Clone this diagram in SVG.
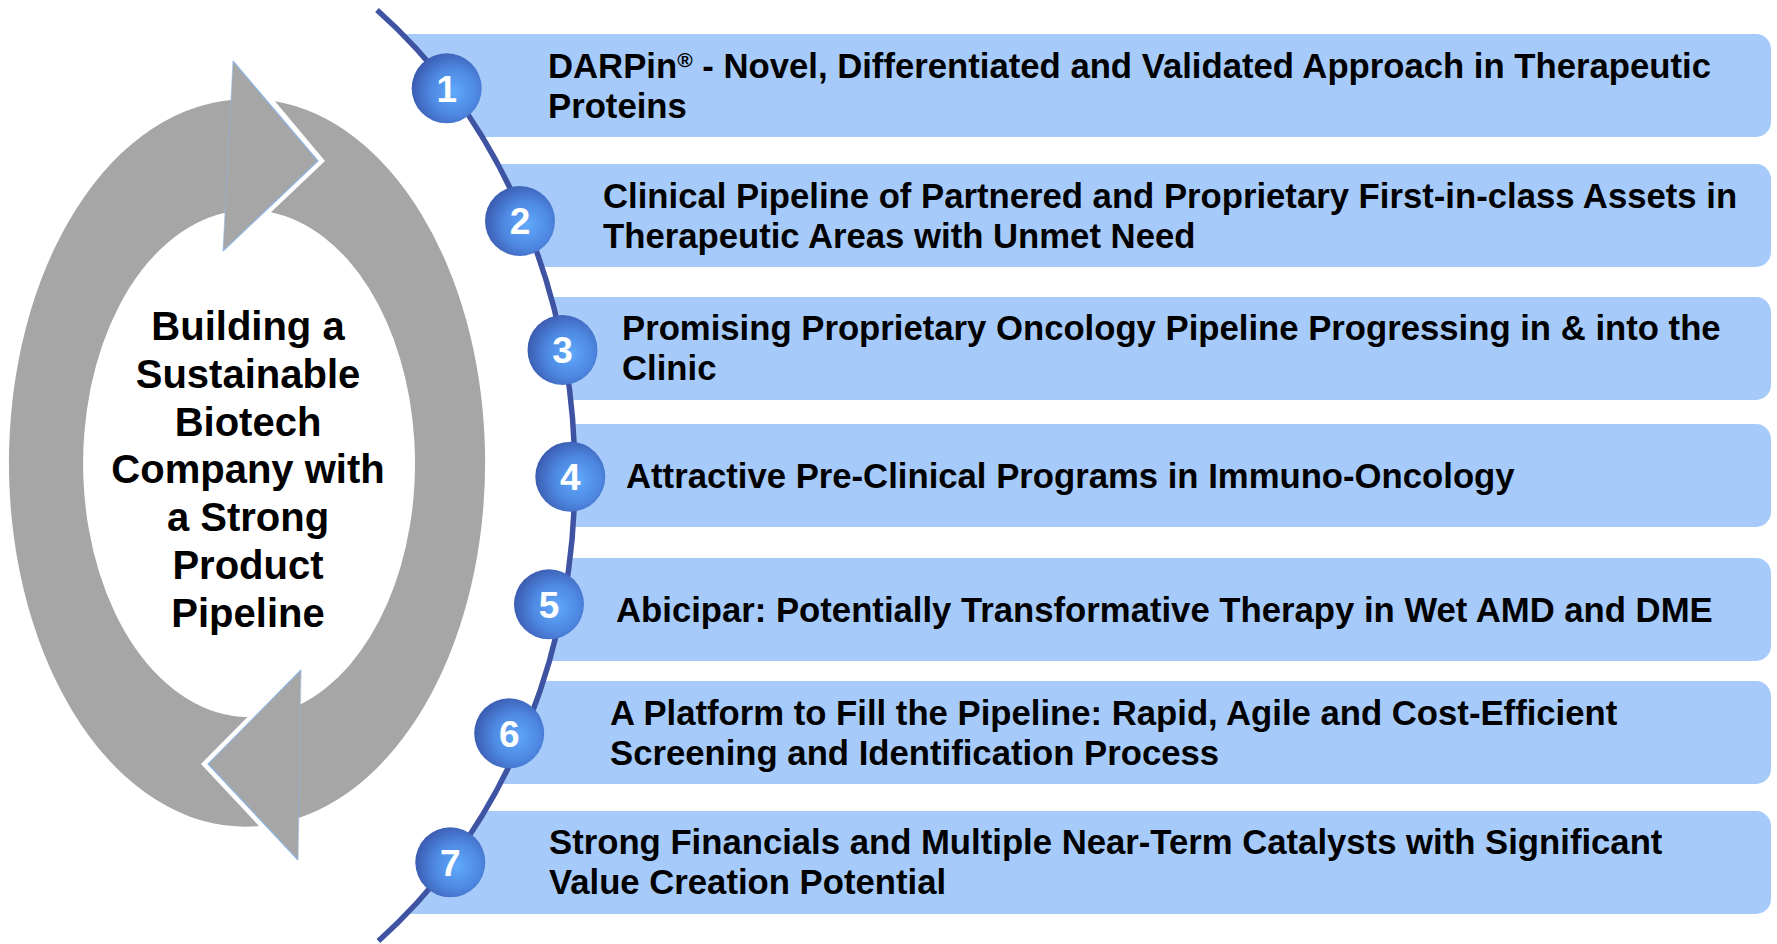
<svg xmlns="http://www.w3.org/2000/svg" width="1777" height="944" viewBox="0 0 1777 944">
<defs>
<radialGradient id="ball" cx="0.6" cy="0.55" r="0.6">
<stop offset="0" stop-color="#5FAAFB"/>
<stop offset="0.55" stop-color="#4E88E2"/>
<stop offset="1" stop-color="#3B5DB1"/>
</radialGradient>
<style>
.box{fill:#A6CBFA;}
.lbl{font-family:"Liberation Sans",Arial,sans-serif;font-weight:bold;font-size:34.7px;fill:#000;}
.num{font-family:"Liberation Sans",Arial,sans-serif;font-weight:bold;font-size:37px;fill:#fff;text-anchor:middle;}
.ball{fill:url(#ball);}
.ctr{font-family:"Liberation Sans",Arial,sans-serif;font-weight:bold;font-size:40px;fill:#000;text-anchor:middle;}
.ring{fill:#A6A6A6;}
.edge{fill:none;stroke:#8FB6E6;stroke-width:1.2;}
</style>
</defs>
<rect width="1777" height="944" fill="#fff"/>
<g id="boxes">
<rect class="box" x="330" y="34" width="1441" height="103" rx="15"/>
<rect class="box" x="330" y="164" width="1441" height="103" rx="15"/>
<rect class="box" x="330" y="297" width="1441" height="103" rx="15"/>
<rect class="box" x="330" y="424" width="1441" height="103" rx="15"/>
<rect class="box" x="330" y="558" width="1441" height="103" rx="15"/>
<rect class="box" x="330" y="681" width="1441" height="103" rx="15"/>
<rect class="box" x="330" y="811" width="1441" height="103" rx="15"/>
</g>
<ellipse cx="75" cy="476" rx="500" ry="585" fill="#fff"/>
<g id="connectors">
<path d="M 377 10 A 500 585 0 0 1 378.4 941" fill="none" stroke="#3E54A3" stroke-width="5.5"/>
</g>
<g id="cycle">
<path class="ring" d="M 259 826 L 201 764 L 247.5 717 A 166 253.5 0 0 1 225 212.7 L 223 251 L 318 161 L 233 61 L 231 100.1 A 236 363.5 0 0 0 259 826 Z"/>
<path class="ring" d="M 275 101.2 L 325 161 L 271 212.2 A 166 253.5 0 0 1 300.2 704.6 L 301 670 L 208 764 L 298 860 L 298.7 817.9 A 236 363.5 0 0 0 275 101.2 Z"/>
<polyline class="edge" points="233,61 318,161 223,251"/>
<line class="edge" x1="233" y1="61" x2="223" y2="251" stroke-opacity="0.5"/>
<polyline class="edge" points="301,670 208,764 298,860"/>
<line class="edge" x1="301" y1="670" x2="298" y2="860" stroke-opacity="0.5"/>
<text class="ctr"><tspan x="248" y="340">Building a</tspan><tspan x="248" y="387.8">Sustainable</tspan><tspan x="248" y="435.6">Biotech</tspan><tspan x="248" y="483.4">Company with</tspan><tspan x="248" y="531.2">a Strong</tspan><tspan x="248" y="579">Product</tspan><tspan x="248" y="626.8">Pipeline</tspan></text>
</g>
<g id="item1">
<text class="lbl"><tspan x="548" y="77.8">DARPin</tspan><tspan dy="-11" font-size="21">®</tspan><tspan dy="11"> - Novel, Differentiated and Validated Approach in Therapeutic</tspan><tspan x="548" y="117.8">Proteins</tspan></text>
<circle class="ball" cx="446.7" cy="88.3" r="35"/>
<text class="num" x="446.7" y="101.5">1</text>
</g>
<g id="item2">
<text class="lbl"><tspan x="603" y="207.8">Clinical Pipeline of Partnered and Proprietary First-in-class Assets in</tspan><tspan x="603" y="247.8">Therapeutic Areas with Unmet Need</tspan></text>
<circle class="ball" cx="520" cy="221" r="35"/>
<text class="num" x="520" y="234.2">2</text>
</g>
<g id="item3">
<text class="lbl"><tspan x="622" y="340.3">Promising Proprietary Oncology Pipeline Progressing in &amp; into the</tspan><tspan x="622" y="380.3">Clinic</tspan></text>
<circle class="ball" cx="562.5" cy="350" r="35"/>
<text class="num" x="562.5" y="363.2">3</text>
</g>
<g id="item4">
<text class="lbl" x="626" y="487.8">Attractive Pre-Clinical Programs in Immuno-Oncology</text>
<circle class="ball" cx="570.3" cy="476.7" r="35"/>
<text class="num" x="570.3" y="489.9">4</text>
</g>
<g id="item5">
<text class="lbl" x="616" y="621.8">Abicipar: Potentially Transformative Therapy in Wet AMD and DME</text>
<circle class="ball" cx="549" cy="604.3" r="35"/>
<text class="num" x="549" y="617.5">5</text>
</g>
<g id="item6">
<text class="lbl"><tspan x="610" y="724.8">A Platform to Fill the Pipeline: Rapid, Agile and Cost-Efficient</tspan><tspan x="610" y="764.8">Screening and Identification Process</tspan></text>
<circle class="ball" cx="509.2" cy="733.3" r="35"/>
<text class="num" x="509.2" y="746.5">6</text>
</g>
<g id="item7">
<text class="lbl"><tspan x="549" y="854.3">Strong Financials and Multiple Near-Term Catalysts with Significant</tspan><tspan x="549" y="894.3">Value Creation Potential</tspan></text>
<circle class="ball" cx="450.3" cy="862.3" r="35"/>
<text class="num" x="450.3" y="875.5">7</text>
</g>
</svg>
